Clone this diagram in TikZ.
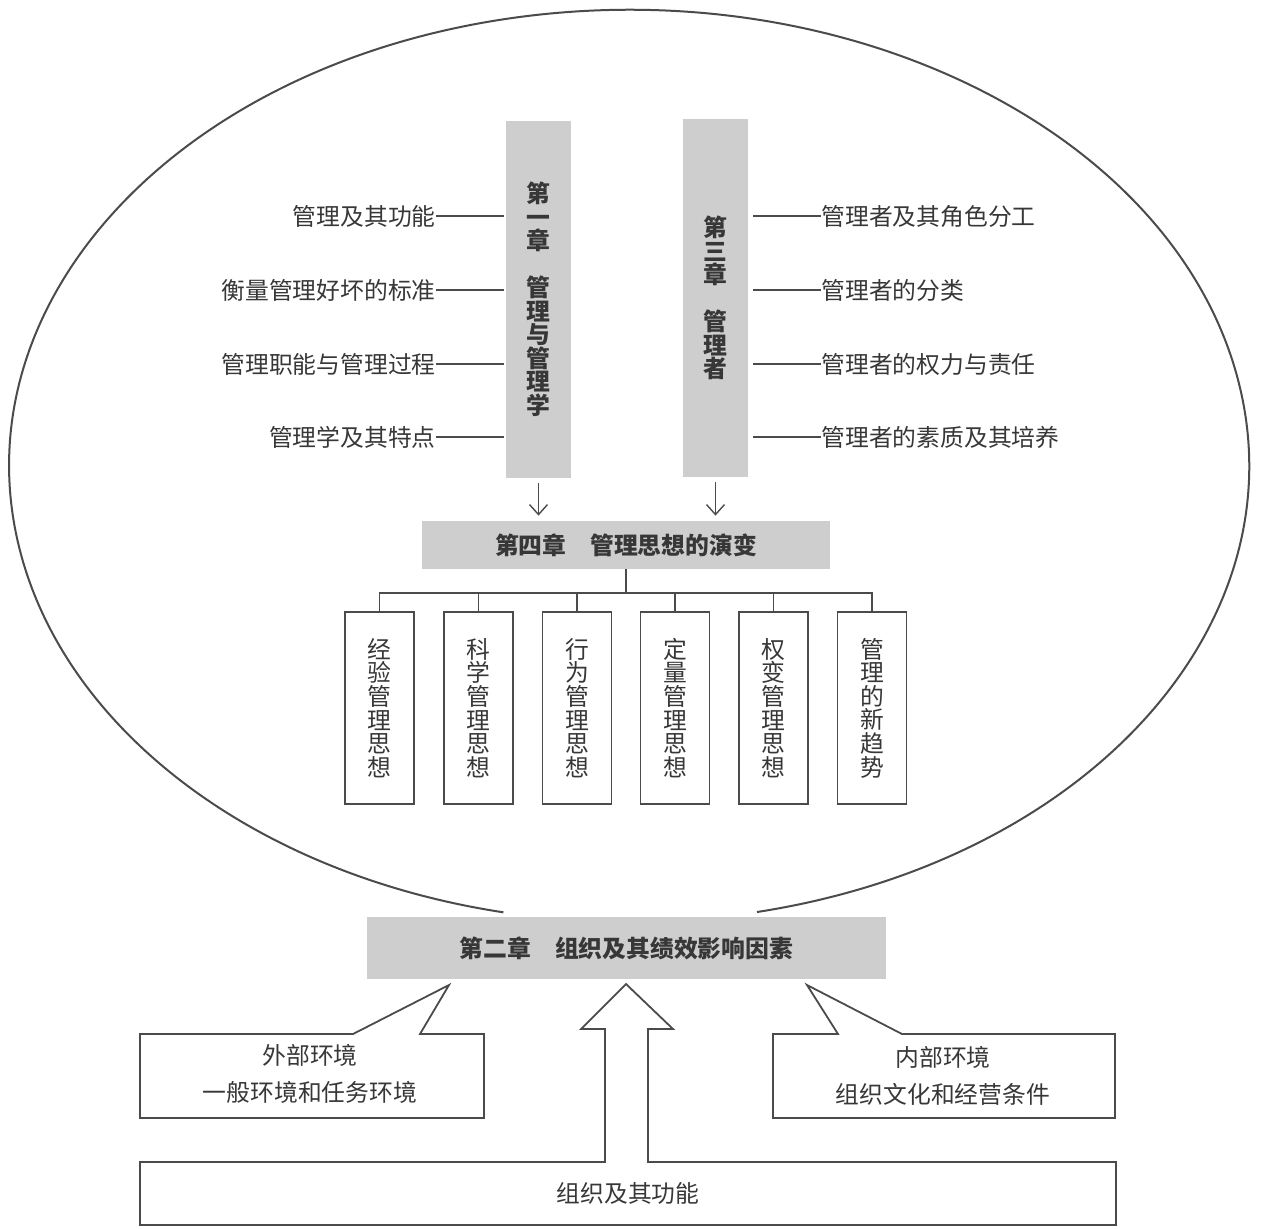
\documentclass[tikz,border=0pt]{standalone}
\usepackage{fontspec}
\setmainfont{Noto Sans CJK SC}
\usetikzlibrary{arrows.meta}
\definecolor{boxgray}{RGB}{206,206,206}
\definecolor{ink}{RGB}{75,75,75}
\definecolor{txt}{RGB}{55,55,55}
\begin{document}
\begin{tikzpicture}[x=0.5pt,y=-0.5pt,
  every node/.style={text=txt},
  lab/.style={inner sep=0pt, font=\fontsize{11.9}{12}\selectfont},
  colbox/.style={fill=boxgray, inner sep=0pt, align=center,
    font=\bfseries\fontsize{11.9}{11.75}\selectfont, minimum width=32.5pt},
  barbox/.style={fill=boxgray, inner sep=0pt,
    font=\bfseries\fontsize{11.9}{12}\selectfont},
  idea/.style={draw=ink, line width=0.9pt, inner sep=0pt, align=center,
    font=\fontsize{11.9}{11.8}\selectfont, minimum width=34.5pt, minimum height=96pt},
  conn/.style={draw=ink, line width=0.6pt},
  tree/.style={draw=ink, line width=0.7pt},
  arr/.style={draw=ink, line width=0.7pt, -{Straight Barb[length=5pt,width=9pt]}},
  outline/.style={draw=ink, line width=0.9pt},
  plain/.style={inner sep=0pt, font=\fontsize{11.9}{12}\selectfont}
]
\useasboundingbox (0,0) rectangle (1264,1228);

% big ellipse, open at the bottom
\coordinate (ellstart) at (757,912);
\draw[draw=ink, line width=1pt] (ellstart) arc[start angle=281.9, end angle=618.3, x radius=310pt, y radius=228pt];

% chapter columns
\node[colbox, minimum height=178.5pt] (c1) at (538.5,299.5) {第\\一\\章\\~\\管\\理\\与\\管\\理\\学};
\node[colbox, minimum height=179pt] (c3) at (715.5,298) {第\\三\\章\\~\\管\\理\\者};

% left labels
\node[lab, anchor=east] (l1) at (436,216) {管理及其功能};
\node[lab, anchor=east] (l2) at (436,290) {衡量管理好坏的标准};
\node[lab, anchor=east] (l3) at (436,364) {管理职能与管理过程};
\node[lab, anchor=east] (l4) at (436,437) {管理学及其特点};
\foreach \n in {l1,l2,l3,l4}
  \draw[conn, shorten >=1pt] (\n.east) -- (\n.east -| c1.west);

% right labels
\node[lab, anchor=west] (r1) at (821,216) {管理者及其角色分工};
\node[lab, anchor=west] (r2) at (821,290) {管理者的分类};
\node[lab, anchor=west] (r3) at (821,364) {管理者的权力与责任};
\node[lab, anchor=west] (r4) at (821,437) {管理者的素质及其培养};
\foreach \n in {r1,r2,r3,r4}
  \draw[conn, shorten >=2.5pt] (\n.west) -- (\n.west -| c3.east);

% chapter 4
\node[barbox, minimum width=204pt, minimum height=24pt] (c4) at (626,545) {第四章\quad 管理思想的演变};
\draw[arr, shorten <=2.5pt, shorten >=2.5pt] (c1.south) -- (c1.south |- c4.north);
\draw[arr, shorten <=2.5pt, shorten >=2.5pt] (c3.south) -- (c3.south |- c4.north);

% six ideas
\node[idea] (t1) at (379.5,708) {经\\验\\管\\理\\思\\想};
\node[idea] (t2) at (478.5,708) {科\\学\\管\\理\\思\\想};
\node[idea] (t3) at (577,708) {行\\为\\管\\理\\思\\想};
\node[idea] (t4) at (675,708) {定\\量\\管\\理\\思\\想};
\node[idea] (t5) at (773.5,708) {权\\变\\管\\理\\思\\想};
\node[idea] (t6) at (872,708) {管\\理\\的\\新\\趋\\势};
\coordinate (bus) at (626,593);
\draw[tree] (c4.south) -- (bus);
\draw[tree] (t1.north) -- (t1.north |- bus) -- (t6.north |- bus) -- (t6.north);
\foreach \n in {t2,t3,t4,t5}
  \draw[tree] (\n.north) -- (\n.north |- bus);

% chapter 2
\node[barbox, minimum width=259.5pt, minimum height=31pt] (c2) at (626.5,948) {第二章\quad 组织及其绩效影响因素};

% callouts
\draw[outline, line join=miter] (140,1034) -- (353,1034) -- (449,985) -- (420,1034) -- (484,1034) -- (484,1118) -- (140,1118) -- cycle;
\draw[outline, line join=miter] (773,1034) -- (838,1034) -- (807,985) -- (902,1034) -- (1115,1034) -- (1115,1118) -- (773,1118) -- cycle;
\node[plain] (ext1) at (310,1055) {外部环境};
\node[plain] (ext2) at (310,1092) {一般环境和任务环境};
\node[plain] (int1) at (943,1057) {内部环境};
\node[plain] (int2) at (943,1094) {组织文化和经营条件};

% base box with block arrow
\draw[outline, line join=miter] (140,1162) -- (605,1162) -- (605,1029) -- (581,1029) -- (626,984) -- (673,1029) -- (648,1029) -- (648,1162) -- (1116,1162) -- (1116,1225) -- (140,1225) -- cycle;
\node[plain] (base) at (628,1193) {组织及其功能};
\end{tikzpicture}
\end{document}
